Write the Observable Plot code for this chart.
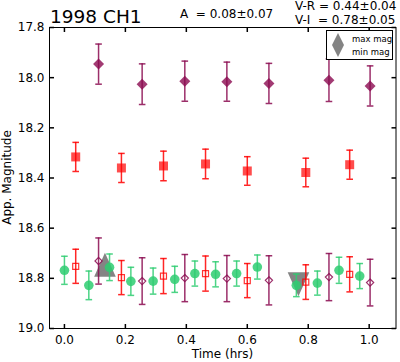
<!DOCTYPE html>
<html><head><meta charset="utf-8">
<script src="https://cdn.jsdelivr.net/npm/d3@7"></script>
<script src="https://cdn.jsdelivr.net/npm/@observablehq/plot@0.6"></script>
<style>body{margin:0;background:#fff} svg{display:block} text{font-family:"DejaVu Sans",sans-serif}</style>
</head><body><div id="chart"></div>
<script>
// ---- data ----
const timeV = [0.000, 0.080, 0.148, 0.218, 0.291, 0.362, 0.428, 0.496, 0.565, 0.633, 0.761, 0.830, 0.901, 0.969];
const magV  = [18.768, 18.828, 18.756, 18.812, 18.811, 18.804, 18.781, 18.784, 18.781, 18.755, 18.828, 18.819, 18.768, 18.791];
const errV  = [0.056, 0.057, 0.053, 0.056, 0.052, 0.052, 0.050, 0.050, 0.050, 0.048, 0.045, 0.048, 0.052, 0.050];

const timeR    = [0.037, 0.187, 0.325, 0.463, 0.600, 0.792, 0.936];
const magR     = [18.316, 18.360, 18.352, 18.344, 18.372, 18.378, 18.347];
const errR     = [0.058, 0.058, 0.059, 0.059, 0.057, 0.057, 0.058];
const magRcorr = [18.752, 18.797, 18.791, 18.781, 18.809, 18.815, 18.784];
const errRcorr = [0.068, 0.068, 0.070, 0.070, 0.068, 0.069, 0.070];

const timeI    = [0.112, 0.255, 0.395, 0.533, 0.671, 0.868, 1.003];
const magI     = [17.946, 18.026, 18.014, 18.016, 18.023, 18.010, 18.033];
const errI     = [0.080, 0.081, 0.080, 0.078, 0.080, 0.085, 0.080];
const magIcorr = [18.731, 18.811, 18.799, 18.801, 18.808, 18.795, 18.817];
const errIcorr = [0.092, 0.093, 0.094, 0.092, 0.098, 0.094, 0.093];

const extremaLabel = ["max mag", "min mag"];
const extremaTime  = [0.133, 0.768];
const extremaMag   = [18.746, 18.824];

const xTicks = [0.0, 0.2, 0.4, 0.6, 0.8, 1.0];
const yTicks = [17.8, 18.0, 18.2, 18.4, 18.6, 18.8, 19.0];
const titleText = "1998 CH1";
const ampText = "A  = 0.08\u00b10.07";
const vrText = "V-R = 0.44\u00b10.04";
const viText = "V-I  = 0.78\u00b10.05";
const xLabel = "Time (hrs)";
const yLabel = "App. Magnitude";

// ---- colours ----
const green = "#2ecc71", red = "#ff0000", purple = "#8b0a50", gray = "#777777";

// ---- helpers ----
const rows = (t, m, e) => t.map((x, i) => ({t: x, m: m[i], e: e ? e[i] : 0}));
const sym = f => ({draw(c, size) { const r = Math.sqrt(size / Math.PI); f(c, r); }});
const square  = sym((c, r) => { c.moveTo(-r, -r); c.lineTo(r, -r); c.lineTo(r, r); c.lineTo(-r, r); c.closePath(); });
const diamond = sym((c, r) => { c.moveTo(0, -r); c.lineTo(r, 0); c.lineTo(0, r); c.lineTo(-r, 0); c.closePath(); });
const triUp   = sym((c, r) => { c.moveTo(0, -r); c.lineTo(0.9 * r, r); c.lineTo(-0.9 * r, r); c.closePath(); });
const triDown = sym((c, r) => { c.moveTo(0, r); c.lineTo(0.9 * r, -r); c.lineTo(-0.9 * r, -r); c.closePath(); });
const hline   = sym((c, r) => { c.moveTo(-r, 0); c.lineTo(r, 0); });
const vUp     = sym((c, r) => { c.moveTo(0, 0); c.lineTo(0, -r); });
const vDown   = sym((c, r) => { c.moveTo(0, 0); c.lineTo(0, r); });
const hRight  = sym((c, r) => { c.moveTo(0, 0); c.lineTo(r, 0); });
const hLeft   = sym((c, r) => { c.moveTo(0, 0); c.lineTo(-r, 0); });

function errorMarks(data, color, opacity) {
  const o = {x: "t", stroke: color, strokeWidth: 1.5, strokeOpacity: opacity};
  return [
    Plot.ruleX(data, {...o, y1: d => d.m - d.e, y2: d => d.m + d.e}),
    Plot.dot(data, {...o, y: d => d.m - d.e, symbol: hline, r: 3.3, fill: "none"}),
    Plot.dot(data, {...o, y: d => d.m + d.e, symbol: hline, r: 3.3, fill: "none"})
  ];
}

const V = rows(timeV, magV, errV);
const R = rows(timeR, magR, errR);
const Rc = rows(timeR, magRcorr, errRcorr);
const I = rows(timeI, magI, errI);
const Ic = rows(timeI, magIcorr, errIcorr);
const Ex = extremaLabel.map((l, i) => ({label: l, t: extremaTime[i], m: extremaMag[i]}));

const chart = Plot.plot({
  width: 400, height: 362,
  marginLeft: 49, marginRight: 4.5, marginTop: 27, marginBottom: 34,
  style: {fontFamily: "DejaVu Sans", fontSize: "12px", background: "white", color: "black"},
  x: {domain: [-0.049, 1.088], label: null},
  y: {domain: [17.8, 19.0], reverse: true, label: null},
  marks: [
    Plot.axisX(xTicks, {tickSize: 0, tickPadding: 7, tickFormat: d3.format(".1f"), fontSize: 12, label: null}),
    Plot.axisY(yTicks, {tickSize: 0, tickPadding: 5, tickFormat: d3.format(".1f"), fontSize: 12, label: null}),
    // extrema markers
    Plot.dot(Ex.filter(d => d.label === "max mag"), {x: "t", y: "m", symbol: triUp, r: 12, fill: gray, fillOpacity: 0.9, stroke: "none"}),
    Plot.dot(Ex.filter(d => d.label === "min mag"), {x: "t", y: "m", symbol: triDown, r: 12, fill: gray, fillOpacity: 0.9, stroke: "none"}),
    // I band (filled diamonds) and corrected (open diamonds)
    ...errorMarks(I, purple, 0.85),
    Plot.dot(I, {x: "t", y: "m", symbol: diamond, r: 5.5, fill: purple, fillOpacity: 0.8, stroke: "none"}),
    ...errorMarks(Ic, purple, 0.85),
    Plot.dot(Ic, {x: "t", y: "m", symbol: diamond, r: 3.6, fill: "none", stroke: purple, strokeWidth: 1.2, strokeOpacity: 0.85}),
    // R band (filled squares) and corrected (open squares)
    ...errorMarks(R, red, 0.85),
    Plot.dot(R, {x: "t", y: "m", symbol: square, r: 4.5, fill: red, fillOpacity: 0.7, stroke: "none"}),
    ...errorMarks(Rc, red, 0.85),
    Plot.dot(Rc, {x: "t", y: "m", symbol: square, r: 3, fill: "none", stroke: red, strokeWidth: 1.2, strokeOpacity: 0.8}),
    // V band
    ...errorMarks(V, green, 0.85),
    Plot.dot(V, {x: "t", y: "m", r: 4.8, fill: green, fillOpacity: 0.85, stroke: "none"}),
    // inward ticks on all sides
    Plot.dot(xTicks, {x: d => d, frameAnchor: "bottom", symbol: vUp, r: 4.5, stroke: "black", fill: "none"}),
    Plot.dot(xTicks, {x: d => d, frameAnchor: "top", symbol: vDown, r: 4.5, stroke: "black", fill: "none"}),
    Plot.dot(yTicks, {y: d => d, frameAnchor: "left", symbol: hRight, r: 4.5, stroke: "black", fill: "none"}),
    Plot.dot(yTicks, {y: d => d, frameAnchor: "right", symbol: hLeft, r: 4.5, stroke: "black", fill: "none"}),
    Plot.frame({stroke: "black", strokeWidth: 1})
  ]
});

const svg = d3.select(chart);
svg.attr("overflow", "hidden");
const addText = (txt, x, y, size, anchor = "start", parent = svg) =>
  parent.append("text").attr("x", x).attr("y", y).attr("font-size", size)
     .attr("text-anchor", anchor).attr("fill", "black").style("white-space", "pre")
     .attr("font-family", "DejaVu Sans").text(txt);

addText(titleText, 50, 23, 18.5);
addText(ampText, 180, 17.5, 12);
addText(vrText, 295, 9.5, 12);
addText(viText, 295, 24, 12);
addText(xLabel, 222.5, 358, 12, "middle");
addText(yLabel, 0, 0, 12, "middle").attr("transform", "translate(11,177.5) rotate(-90)");

// legend
const lg = svg.append("g");
lg.append("rect").attr("x", 326.5).attr("y", 30.5).attr("width", 66).attr("height", 29)
  .attr("fill", "white").attr("stroke", "black").attr("stroke-width", 1);
lg.append("path").attr("d", "M338,33L344,45L332,45Z").attr("fill", gray).attr("fill-opacity", 0.9);
lg.append("path").attr("d", "M338,57L344,45L332,45Z").attr("fill", gray).attr("fill-opacity", 0.9);
addText(extremaLabel[0], 352, 41.5, 8.5, "start", lg);
addText(extremaLabel[1], 352, 54.5, 8.5, "start", lg);

document.getElementById("chart").appendChild(chart);
</script>
</body></html>
